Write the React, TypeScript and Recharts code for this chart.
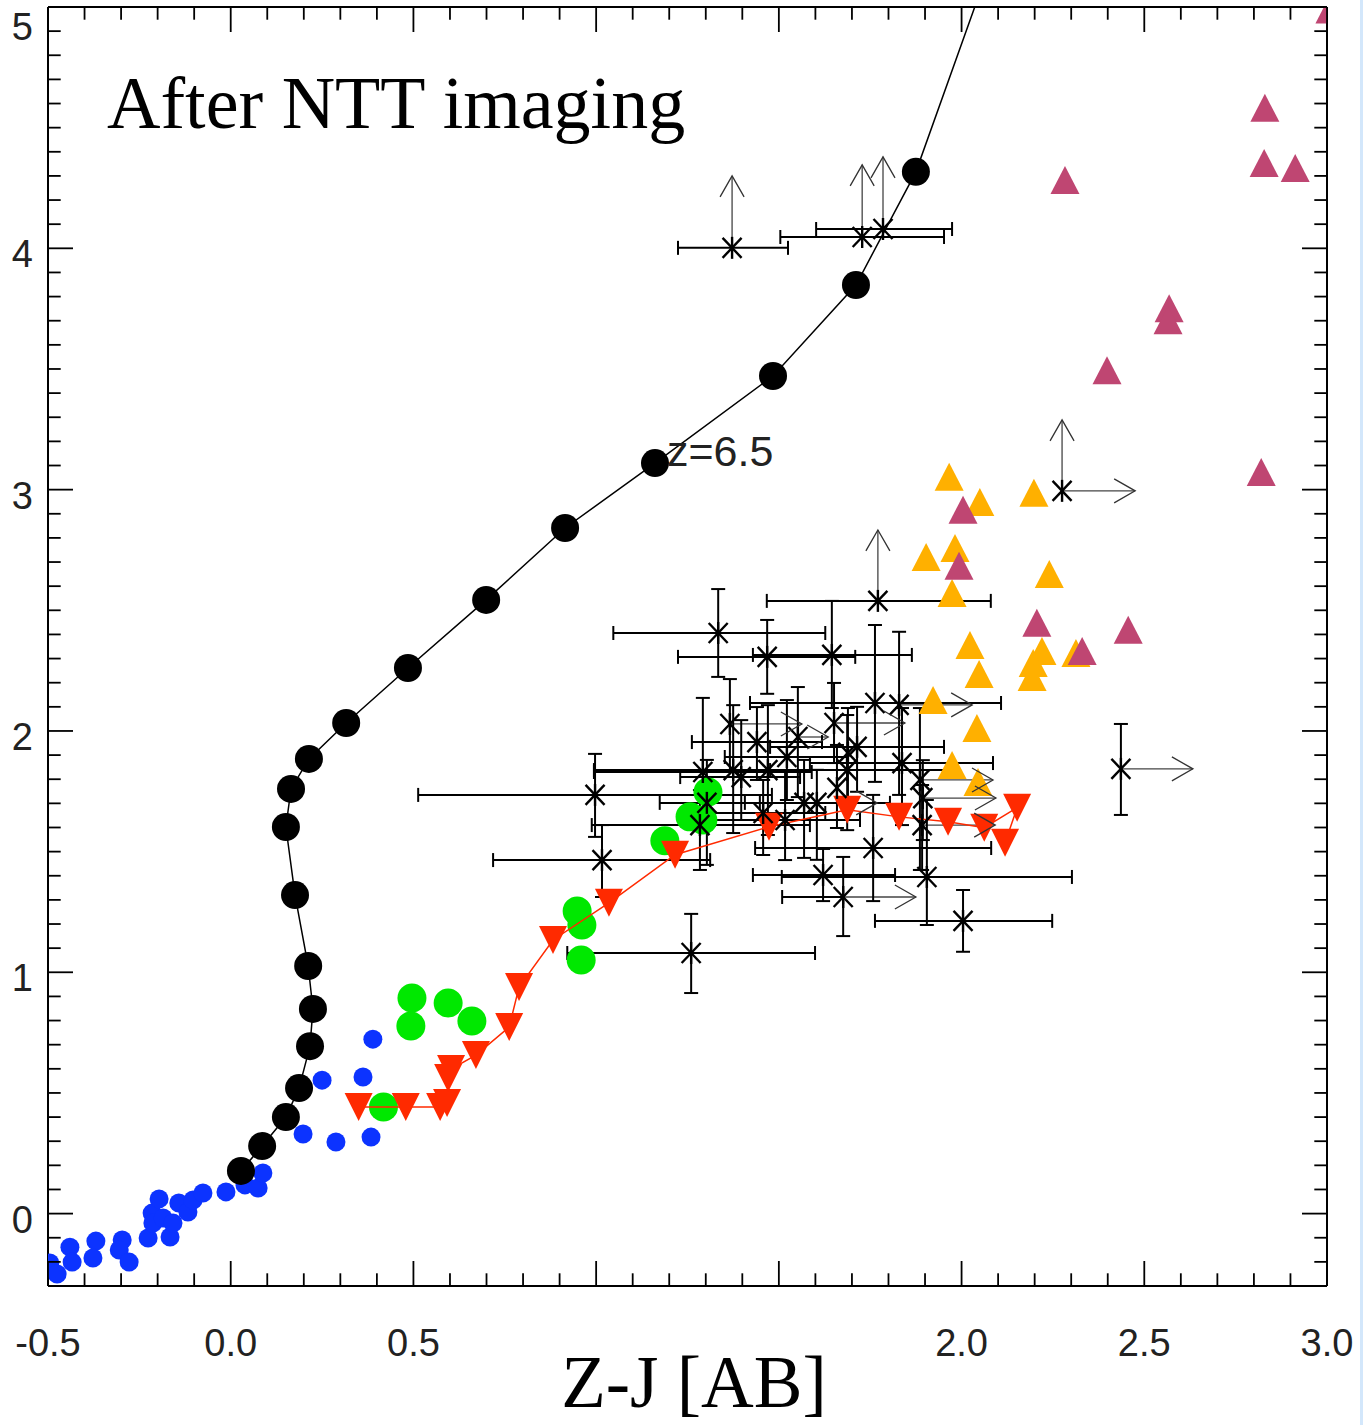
import React from 'react';
import { ScatterChart, Scatter, XAxis, YAxis, ErrorBar, ReferenceLine } from 'recharts';

const X_DOMAIN: [number, number] = [-0.5, 3.0];
const Y_DOMAIN: [number, number] = [-0.3, 5.0];

const xTickLabels: [number, string][] = [[-0.5, '-0.5'], [0, '0.0'], [0.5, '0.5'], [2, '2.0'], [2.5, '2.5'], [3, '3.0']];
const yTickLabels: [number, string][] = [[0, '0'], [1, '1'], [2, '2'], [3, '3'], [4, '4'], [5, '5']];

const blueDots: [number, number][] = [
  [-0.495, -0.205], [-0.475, -0.25], [-0.44, -0.139], [-0.434, -0.201], [-0.369, -0.114], [-0.377, -0.184],
  [-0.297, -0.109], [-0.305, -0.151], [-0.278, -0.201], [-0.226, -0.101], [-0.215, 0.002], [-0.213, -0.039],
  [-0.196, 0.061], [-0.166, -0.097], [-0.185, -0.018], [-0.158, -0.039], [-0.142, 0.044], [-0.117, 0.007],
  [-0.103, 0.056], [-0.076, 0.085], [-0.013, 0.09], [0.039, 0.119], [0.075, 0.106], [0.088, 0.168],
  [0.198, 0.33], [0.288, 0.297], [0.384, 0.317], [0.25, 0.553], [0.362, 0.566], [0.389, 0.723],
];

const trackPoints: [number, number][] = [
  [0.028, 0.177], [0.086, 0.28], [0.151, 0.4], [0.187, 0.52], [0.217, 0.694], [0.225, 0.848], [0.212, 1.026],
  [0.176, 1.32], [0.151, 1.602], [0.165, 1.76], [0.214, 1.884], [0.316, 2.033], [0.485, 2.261], [0.699, 2.543],
  [0.915, 2.841], [1.161, 3.11], [1.484, 3.471], [1.711, 3.848], [1.875, 4.317], [2.154, 5.5],
];

const greenPoints: [number, number][] = [
  [0.418, 0.442], [0.493, 0.777], [0.496, 0.893], [0.595, 0.873], [0.66, 0.798], [0.948, 1.254],
  [0.961, 1.196], [0.959, 1.051], [1.188, 1.545], [1.257, 1.644], [1.292, 1.631], [1.306, 1.747],
];

const redPoints: [number, number][] = [
  [0.35, 0.442], [0.479, 0.442], [0.573, 0.442], [0.592, 0.458], [0.595, 0.562], [0.603, 0.599], [0.671, 0.657],
  [0.762, 0.773], [0.789, 0.939], [0.882, 1.134], [1.035, 1.288], [1.216, 1.487], [1.473, 1.603], [1.687, 1.673],
  [1.829, 1.644], [1.963, 1.624], [2.062, 1.599], [2.152, 1.682], [2.119, 1.537],
];

const orangePoints: [number, number][] = [
  [1.966, 3.053], [2.05, 2.949], [2.198, 2.987], [1.903, 2.721], [1.982, 2.758], [1.974, 2.572], [2.24, 2.65],
  [2.023, 2.356], [2.048, 2.236], [2.22, 2.331], [2.196, 2.282], [2.193, 2.224], [2.313, 2.323], [1.922, 2.128],
  [2.042, 2.012], [1.974, 1.859], [2.045, 1.789],
];

const magentaPoints: [number, number][] = [
  [2.83, 4.582], [2.828, 4.354], [2.913, 4.333], [2.283, 4.283], [2.568, 3.752], [2.565, 3.702], [2.398, 3.495],
  [2.82, 3.073], [2.004, 2.917], [1.993, 2.685], [2.206, 2.448], [2.456, 2.419], [2.33, 2.331], [3.008, 4.99],
];

// [x, y, xErrLow, xErrHigh, yErrLow, yErrHigh]
const starPoints: (number | null)[][] = [
  [1.372, 4.002, 0.148, 0.153, null, null],
  [1.728, 4.047, 0.224, 0.224, null, null],
  [1.785, 4.08, 0.183, 0.189, null, null],
  [2.275, 2.995, null, null, null, null],
  [1.771, 2.539, 0.304, 0.309, null, null],
  [2.436, 1.843, null, null, 0.191, 0.186],
  [1.334, 2.406, 0.287, 0.293, 0.182, 0.182],
  [1.468, 2.307, 0.244, 0.241, 0.153, 0.153],
  [1.645, 2.315, 0.216, 0.219, 0.22, 0.224],
  [1.763, 2.116, 0.342, 0.345, 0.327, 0.323],
  [1.829, 2.108, null, null, 0.373, 0.303],
  [1.366, 2.029, null, null, 0.191, 0.186],
  [1.651, 2.033, null, null, 0.166, 0.166],
  [1.44, 1.954, 0.178, 0.178, 0.157, 0.145],
  [1.552, 1.975, null, null, 0.249, 0.207],
  [1.714, 1.934, 0.238, 0.238, 0.186, 0.166],
  [1.522, 1.892, 0.17, 0.164, 0.178, 0.236],
  [1.292, 1.83, 0.298, 0.298, 0.24, 0.307],
  [1.375, 1.838, null, null, 0.261, 0.269],
  [1.397, 1.809, 0.167, 0.161, 0.178, 0.236],
  [1.47, 1.838, 0.476, 0.509, 0.269, 0.269],
  [1.687, 1.838, 0.211, 0.2, 0.249, 0.228],
  [1.837, 1.867, 0.252, 0.249, 0.257, 0.228],
  [1.689, 1.909, null, null, 0.207, 0.186],
  [1.886, 1.797, null, null, 0.373, 0.298],
  [1.894, 1.722, null, null, 0.174, 0.157],
  [0.997, 1.735, 0.484, 0.484, 0.174, 0.17],
  [1.303, 1.702, 0.129, 0.145, 0.257, 0.178],
  [1.284, 1.61, 0.296, 0.301, 0.186, 0.145],
  [1.457, 1.66, 0.172, 0.17, 0.174, 0.137],
  [1.517, 1.631, 0.192, 0.205, 0.166, 0.207],
  [1.569, 1.702, null, null, 0.228, 0.178],
  [1.604, 1.702, 0.197, 0.2, 0.236, 0.137],
  [1.659, 1.764, null, null, 0.166, 0.178],
  [1.892, 1.61, null, null, 0.186, 0.166],
  [1.016, 1.465, 0.298, 0.296, 0.153, 0.145],
  [1.621, 1.403, 0.192, 0.197, 0.108, 0.108],
  [1.676, 1.312, 0.167, 0, 0.162, 0.166],
  [1.758, 1.515, 0.323, 0.323, 0.22, 0.22],
  [1.905, 1.395, 0.397, 0.397, 0.199, 0.319],
  [2.004, 1.213, 0.241, 0.244, 0.128, 0.128],
  [1.26, 1.08, 0.339, 0.339, 0.166, 0.162],
];

// [x, y, tipY]
const upArrows: [number, number, number][] = [
  [1.372, 4.002, 4.3], [1.728, 4.047, 4.346], [1.785, 4.08, 4.379], [2.275, 2.995, 3.289], [1.771, 2.539, 2.833],
];
// [x, y, tipX]
const rightArrows: [number, number, number][] = [
  [2.275, 2.995, 2.475], [2.436, 1.843, 2.633], [1.829, 2.108, 2.029], [1.366, 2.029, 1.563], [1.651, 2.033, 1.845],
  [1.552, 1.975, 1.635], [1.886, 1.797, 2.086], [1.894, 1.722, 2.094], [1.892, 1.61, 2.092], [1.569, 1.702, 1.769],
  [1.676, 1.312, 1.875],
];

const xTicks = Array.from({ length: 36 }, (_, i) => (i - 5) / 10);
const yTicks = Array.from({ length: 53 }, (_, i) => (i - 2) / 10);

const toXY = (arr: [number, number][]) => arr.map(([x, y]) => ({ x, y }));
const starData = starPoints.map(([x, y, a, b, c, d]) => ({
  x, y,
  ex: a == null ? null : [a, b],
  ey: c == null ? null : [c, d],
}));
const upTips = upArrows.map(([x, , t]) => ({ x, y: t, dir: 'up' }));
const rightTips = rightArrows.map(([, y, t]) => ({ x: t, y, dir: 'right' }));

const isMajorX = (v: number) => Math.abs(v * 2 - Math.round(v * 2)) < 1e-6;
const isMajorY = (v: number) => Math.abs(v - Math.round(v)) < 1e-6;
const labelFor = (list: [number, string][], v: number) => {
  const f = list.find(([t]) => Math.abs(t - v) < 1e-6);
  return f ? f[1] : null;
};
const SANS = 'Liberation Sans, Arial, Helvetica, sans-serif';
const SERIF = 'Liberation Serif, Times New Roman, serif';
const TICK_W = 1.8;

const BottomTick = (p: any) => {
  const v = p.payload.value;
  const len = isMajorX(v) ? 25 : 12.7;
  const label = labelFor(xTickLabels, v);
  return (
    <g>
      <line x1={p.x} y1={p.y} x2={p.x} y2={p.y - len} stroke="#000" strokeWidth={TICK_W} />
      {label && (
        <text x={p.x} y={p.y + 70} textAnchor="middle" fontFamily={SANS} fontSize={38} fill="#222">{label}</text>
      )}
    </g>
  );
};
const TopTick = (p: any) => {
  const v = p.payload.value;
  const len = isMajorX(v) ? 25 : 12.7;
  return <line x1={p.x} y1={p.y} x2={p.x} y2={p.y + len} stroke="#000" strokeWidth={TICK_W} />;
};
const LeftTick = (p: any) => {
  const v = p.payload.value;
  const len = isMajorY(v) ? 25 : 12.7;
  const label = labelFor(yTickLabels, v);
  const dy = v >= Y_DOMAIN[1] - 1e-6 ? 33 : 19;
  return (
    <g>
      <line x1={p.x} y1={p.y} x2={p.x + len} y2={p.y} stroke="#000" strokeWidth={TICK_W} />
      {label && (
        <text x={p.x - 15} y={p.y + dy} textAnchor="end" fontFamily={SANS} fontSize={38} fill="#222">{label}</text>
      )}
    </g>
  );
};
const RightTick = (p: any) => {
  const v = p.payload.value;
  const len = isMajorY(v) ? 25 : 12.7;
  return <line x1={p.x} y1={p.y} x2={p.x - len} y2={p.y} stroke="#000" strokeWidth={TICK_W} />;
};

const circleShape = (r: number, fill: string) => (p: any) =>
  p.cx == null ? <g /> : <circle cx={p.cx} cy={p.cy} r={r} fill={fill} />;
const triUp = (fill: string) => (p: any) =>
  p.cx == null ? <g /> : (
    <polygon points={`${p.cx - 14.5},${p.cy + 14} ${p.cx + 14.5},${p.cy + 14} ${p.cx},${p.cy - 14}`} fill={fill} />
  );
const triDown = (fill: string) => (p: any) =>
  p.cx == null ? <g /> : (
    <polygon points={`${p.cx - 14},${p.cy - 14} ${p.cx + 14},${p.cy - 14} ${p.cx},${p.cy + 14}`} fill={fill} />
  );
const starShape = (p: any) => {
  if (p.cx == null) return <g />;
  const { cx, cy } = p;
  return (
    <g stroke="#000" strokeWidth={2.4}>
      <line x1={cx - 9.5} y1={cy - 10} x2={cx + 9.5} y2={cy + 10} />
      <line x1={cx - 9.5} y1={cy + 10} x2={cx + 9.5} y2={cy - 10} />
      <line x1={cx} y1={cy - 11} x2={cx} y2={cy + 11} />
    </g>
  );
};
const tipShape = (p: any) => {
  if (p.cx == null) return <g />;
  const { cx, cy } = p;
  const pts = p.payload.dir === 'up'
    ? `${cx - 12},${cy + 21} ${cx},${cy} ${cx + 12},${cy + 21}`
    : `${cx - 21},${cy - 12} ${cx},${cy} ${cx - 21},${cy + 12}`;
  return <polyline points={pts} fill="none" stroke="#333" strokeWidth={1.3} />;
};

const AX = { xAxisId: 'b', yAxisId: 'l' } as const;

export default function App() {
  return (
    <div style={{ position: 'absolute', left: 0, top: 0, width: 1363, height: 1425, background: '#fff' }}>
      <ScatterChart width={1363} height={1425} margin={{ top: 6, right: 35, bottom: 0, left: 0 }}>
        <XAxis xAxisId="b" orientation="bottom" type="number" dataKey="x" domain={X_DOMAIN} ticks={xTicks}
          interval={0} tick={BottomTick} tickLine={false} tickSize={0} tickMargin={0} height={139}
          axisLine={{ stroke: '#000', strokeWidth: 2 }} allowDataOverflow />
        <XAxis xAxisId="t" orientation="top" type="number" dataKey="x" domain={X_DOMAIN} ticks={xTicks}
          interval={0} tick={TopTick} tickLine={false} tickSize={0} tickMargin={0} height={1}
          axisLine={{ stroke: '#000', strokeWidth: 2 }} allowDataOverflow />
        <YAxis yAxisId="l" orientation="left" type="number" dataKey="y" domain={Y_DOMAIN} ticks={yTicks}
          interval={0} tick={LeftTick} tickLine={false} tickSize={0} tickMargin={0} width={48}
          axisLine={{ stroke: '#000', strokeWidth: 2 }} allowDataOverflow />
        <YAxis yAxisId="r" orientation="right" type="number" dataKey="y" domain={Y_DOMAIN} ticks={yTicks}
          interval={0} tick={RightTick} tickLine={false} tickSize={0} tickMargin={0} width={1}
          axisLine={{ stroke: '#000', strokeWidth: 2 }} allowDataOverflow />

        <Scatter {...AX} data={toXY(blueDots)} shape={circleShape(9.5, '#0c33ff')} isAnimationActive={false} />
        <Scatter {...AX} data={toXY(trackPoints)} line={{ stroke: '#000', strokeWidth: 1.5 }} lineType="joint"
          shape={circleShape(14, '#000')} isAnimationActive={false} />
        <Scatter {...AX} data={toXY(greenPoints)} shape={circleShape(14.5, '#00e800')} isAnimationActive={false} />
        <Scatter {...AX} data={toXY(redPoints)} line={{ stroke: '#ff2a00', strokeWidth: 1.5 }} lineType="joint"
          shape={triDown('#ff2a00')} isAnimationActive={false} />
        <Scatter {...AX} data={toXY(orangePoints)} shape={triUp('#ffb000')} isAnimationActive={false} />
        <Scatter {...AX} data={toXY(magentaPoints)} shape={triUp('#bf4672')} isAnimationActive={false} />

        {upArrows.map(([x, y, t], i) => (
          <ReferenceLine key={'u' + i} {...AX} segment={[{ x, y }, { x, y: t }]} stroke="#444" strokeWidth={1.3} ifOverflow="visible" />
        ))}
        {rightArrows.map(([x, y, t], i) => (
          <ReferenceLine key={'r' + i} {...AX} segment={[{ x, y }, { x: t, y }]} stroke="#444" strokeWidth={1.3} ifOverflow="visible" />
        ))}

        <Scatter {...AX} data={starData} shape={starShape} isAnimationActive={false}>
          <ErrorBar dataKey={(d: any) => d.ex} direction="x" width={7} stroke="#000" strokeWidth={2} />
          <ErrorBar dataKey={(d: any) => d.ey} direction="y" width={7} stroke="#000" strokeWidth={2} />
        </Scatter>
        <Scatter {...AX} data={[...upTips, ...rightTips]} shape={tipShape} isAnimationActive={false} />
      </ScatterChart>

      <svg width={1363} height={1425} style={{ position: 'absolute', left: 0, top: 0, pointerEvents: 'none' }}>
        <text x={107} y={128} fontFamily={SERIF} fontSize={74} fill="#000">After NTT imaging</text>
        <text x={667} y={466} fontFamily={SANS} fontSize={43} fill="#222">z=6.5</text>
        <text x={694} y={1407} textAnchor="middle" fontFamily={SERIF} fontSize={73} fill="#000">Z-J [AB]</text>
      </svg>
      <div style={{ position: 'absolute', left: 1360, top: 0, width: 3, height: 1425, background: '#d3e7fb' }} />
    </div>
  );
}
